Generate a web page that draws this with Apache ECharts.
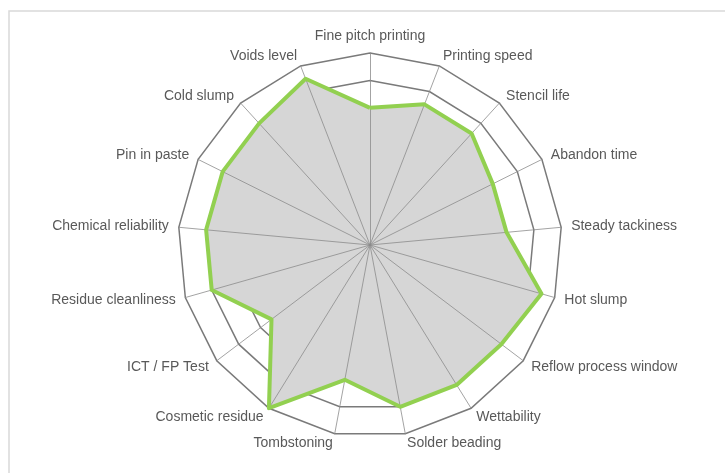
<!DOCTYPE html>
<html>
<head>
<meta charset="utf-8">
<script src="https://cdn.jsdelivr.net/npm/echarts@6/dist/echarts.min.js"></script>
<style>
html,body{margin:0;padding:0;background:#fff;}
#c{width:725px;height:473px;}
</style>
</head>
<body>
<div id="c"></div>
<script>
const categories = ["Fine pitch printing","Printing speed","Stencil life","Abandon time","Steady tackiness","Hot slump","Reflow process window","Wettability","Solder beading","Tombstoning","Cosmetic residue","ICT / FP Test","Residue cleanliness","Chemical reliability","Pin in paste","Cold slump","Voids level"];
const values = [5, 5.5, 5.5, 5, 5, 6.5, 6, 6, 6, 5, 7, 4.5, 6, 6, 6, 6, 6.5];
const maxValue = 7;

// ECharts places indicators counter-clockwise; reorder so they run clockwise from the top
const cw = arr => [arr[0]].concat(arr.slice(1).reverse());
const catsCW = cw(categories);
const valsCW = cw(values);

const chart = echarts.init(document.getElementById('c'));
const indicator = catsCW.map(n => ({name: n, min: 0, max: maxValue}));
const common = {center: [370, 245], radius: 192, startAngle: 90, shape: 'polygon', splitNumber: 7, indicator: indicator};
chart.setOption({
  backgroundColor: '#ffffff',
  animation: false,
  graphic: [{type: 'rect', shape: {x: 9, y: 11, width: 760, height: 520}, style: {fill: 'none', stroke: '#d9d9d9', lineWidth: 1.5}, z: 0}],
  radar: [
    Object.assign({}, common, {
      z: 0,
      axisName: {color: '#595959', fontFamily: 'Liberation Sans', fontSize: 14},
      nameGap: 10,
      axisLine: {show: false},
      splitLine: {lineStyle: {color: '#7a7a7a', width: 1.5}},
      splitArea: {show: false}
    }),
    Object.assign({}, common, {
      z: 2,
      axisName: {show: false},
      axisLine: {lineStyle: {color: '#8c8c8c', width: 0.8}},
      splitLine: {show: false},
      splitArea: {show: false}
    })
  ],
  series: [
    {type: 'radar', radarIndex: 0, z: 1, symbol: 'none', silent: true,
     lineStyle: {width: 0, opacity: 0},
     areaStyle: {color: '#d6d6d6', opacity: 1},
     data: [{value: valsCW}]},
    {type: 'radar', radarIndex: 0, z: 3, symbol: 'none', silent: true,
     lineStyle: {color: '#92d050', width: 4},
     data: [{value: valsCW}]}
  ]
});
</script>
</body>
</html>
